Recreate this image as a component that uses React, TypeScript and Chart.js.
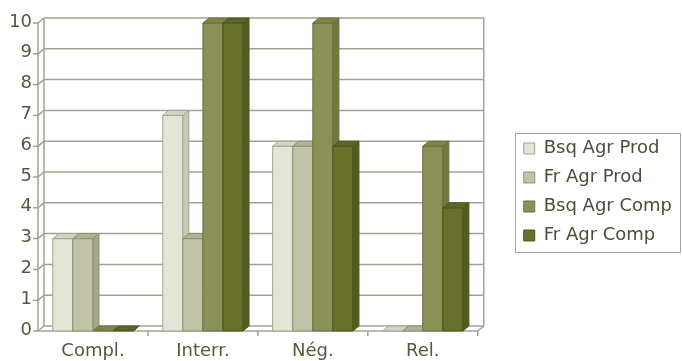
import React, { useEffect, useRef } from 'react';
import { Chart, registerables } from 'chart.js';

Chart.register(...registerables);

const categories = ['Compl.', 'Interr.', 'Nég.', 'Rel.'];
const seriesNames = ['Bsq Agr Prod', 'Fr Agr Prod', 'Bsq Agr Comp', 'Fr Agr Comp'];
const bsqAgrProd = [3, 7, 6, 0];
const frAgrProd = [3, 3, 6, 0];
const bsqAgrComp = [0, 10, 10, 6];
const frAgrComp = [0, 10, 6, 4];
const yMin = 0;
const yMax = 10;
const yStep = 1;

const frontColors = ['#e3e5d6', '#c1c3a6', '#8b9156', '#68712c'];
const sideColors = ['#c6c8b6', '#a4a68a', '#727840', '#535b1f'];
const topColors = ['#d3d5c4', '#b1b396', '#7e844a', '#5d6625'];
const edgeColors = ['#a3a592', '#8f9177', '#6a6f3e', '#4d551c'];

const FONT = 'DejaVu Sans';
const TEXT = '#55583f';
const GRID = '#a2a294';
const DX = 6;
const DY = 5;
const LEGEND_GAP = 35;

const threeD = {
  id: 'threeD',
  beforeLayout(chart: any) {
    const lg = chart.legend;
    if (lg && !lg.__wrapped) {
      const orig = lg.fit;
      lg.fit = function () {
        orig.call(this);
        this.__natW = this.width;
        this.width = this.width + LEGEND_GAP;
      };
      lg.__wrapped = true;
    }
  },
  afterLayout(chart: any) {
    const lg = chart.legend;
    if (lg && lg.__natW) {
      lg.left = lg.right - lg.__natW;
    }
  },
  beforeDatasetsDraw(chart: any) {
    const { ctx, chartArea } = chart;
    const { left: L, right: R } = chartArea;
    const y = chart.scales.y;
    const B = y.getPixelForValue(yMin);
    const T = y.getPixelForValue(yMax);
    ctx.save();
    ctx.strokeStyle = GRID;
    ctx.lineWidth = 1.5;
    y.ticks.forEach((t: any) => {
      const py = y.getPixelForValue(t.value);
      ctx.beginPath();
      ctx.moveTo(L - 5, py);
      ctx.lineTo(L, py);
      ctx.lineTo(L + DX, py - DY);
      ctx.lineTo(R + DX, py - DY);
      ctx.stroke();
    });
    ctx.beginPath();
    ctx.moveTo(L, T);
    ctx.lineTo(L, B);
    ctx.moveTo(L + DX, T - DY);
    ctx.lineTo(L + DX, B - DY);
    ctx.moveTo(R + DX, T - DY);
    ctx.lineTo(R + DX, B - DY);
    ctx.moveTo(L, B);
    ctx.lineTo(R, B);
    ctx.lineTo(R + DX, B - DY);
    const n = categories.length;
    for (let k = 1; k <= n; k++) {
      const xb = L + (k * (R - L)) / n;
      ctx.moveTo(xb, B);
      ctx.lineTo(xb, B + 5);
    }
    ctx.stroke();
    ctx.restore();
  },
  beforeDatasetDraw() {
    return false;
  },
  afterDatasetsDraw(chart: any) {
    const { ctx } = chart;
    const metas = seriesNames.map((_, i) => chart.getDatasetMeta(i));
    ctx.save();
    ctx.lineWidth = 1;
    ctx.lineJoin = 'round';
    for (let j = 0; j < categories.length; j++) {
      for (let i = 0; i < metas.length; i++) {
        const el = metas[i].data[j];
        if (!el) continue;
        const { x, y: top, base, width } = el.getProps(['x', 'y', 'base', 'width'], true);
        const x0 = x - width / 2;
        const x1 = x + width / 2;
        ctx.strokeStyle = edgeColors[i];
        ctx.fillStyle = frontColors[i];
        ctx.beginPath();
        ctx.rect(x0, top, width, base - top);
        ctx.fill();
        if (base - top > 0) ctx.stroke();
        ctx.fillStyle = sideColors[i];
        ctx.beginPath();
        ctx.moveTo(x1, top);
        ctx.lineTo(x1 + DX, top - DY);
        ctx.lineTo(x1 + DX, base - DY);
        ctx.lineTo(x1, base);
        ctx.closePath();
        ctx.fill();
        ctx.stroke();
        ctx.fillStyle = topColors[i];
        ctx.beginPath();
        ctx.moveTo(x0, top);
        ctx.lineTo(x0 + DX, top - DY);
        ctx.lineTo(x1 + DX, top - DY);
        ctx.lineTo(x1, top);
        ctx.closePath();
        ctx.fill();
        ctx.stroke();
      }
    }
    ctx.restore();
  },
  afterDraw(chart: any) {
    const lg = chart.legend;
    if (!lg || !lg.legendHitBoxes || !lg.legendHitBoxes.length) return;
    const hb = lg.legendHitBoxes;
    const top = Math.min(...hb.map((h: any) => h.top)) - 7;
    const bottom = Math.max(...hb.map((h: any) => h.top + h.height)) + 7;
    const left = lg.left + 2;
    const right = chart.width - 2;
    const { ctx } = chart;
    ctx.save();
    ctx.strokeStyle = '#a5a59a';
    ctx.lineWidth = 1;
    ctx.strokeRect(Math.round(left) + 0.5, Math.round(top) + 0.5, Math.round(right - left), Math.round(bottom - top));
    ctx.restore();
  },
};

export default function App() {
  const ref = useRef<HTMLCanvasElement>(null);
  useEffect(() => {
    if (!ref.current) return;
    const seriesValues = [bsqAgrProd, frAgrProd, bsqAgrComp, frAgrComp];
    const chart = new Chart(ref.current, {
      type: 'bar',
      data: {
        labels: categories,
        datasets: seriesNames.map((name, i) => ({
          label: name,
          data: seriesValues[i],
          backgroundColor: frontColors[i],
          borderColor: edgeColors[i],
          borderWidth: 1,
          categoryPercentage: 0.73,
          barPercentage: 1,
        })),
      },
      options: {
        responsive: false,
        animation: false,
        events: [],
        layout: { padding: { top: 23, left: 0, right: 0, bottom: 0 } },
        plugins: {
          legend: {
            position: 'right',
            align: 'center',
            labels: {
              boxWidth: 11,
              boxHeight: 11,
              padding: 11,
              color: '#4b4e38',
              font: { family: FONT, size: 18 },
            },
          },
          tooltip: { enabled: false },
        },
        scales: {
          x: {
            type: 'category',
            offset: true,
            grid: { display: false, drawTicks: false },
            border: { display: false },
            ticks: {
              color: TEXT,
              font: { family: FONT, size: 18 },
              padding: 10,
              maxRotation: 0,
              autoSkip: false,
            },
            afterFit: (s: any) => {
              s.height = 30;
            },
          },
          y: {
            min: yMin,
            max: yMax,
            grid: { display: false, drawTicks: false },
            border: { display: false },
            ticks: {
              stepSize: yStep,
              color: TEXT,
              font: { family: FONT, size: 18 },
              padding: 6,
              labelOffset: -1,
            },
            afterFit: (s: any) => {
              s.width = 38;
            },
          },
        },
      } as any,
      plugins: [threeD],
    });
    return () => chart.destroy();
  }, []);
  return (
    <div style={{ position: 'absolute', left: 0, top: 0, width: 682, height: 361, background: '#ffffff' }}>
      <canvas ref={ref} width={682} height={361} style={{ display: 'block', width: 682, height: 361 }} />
    </div>
  );
}
